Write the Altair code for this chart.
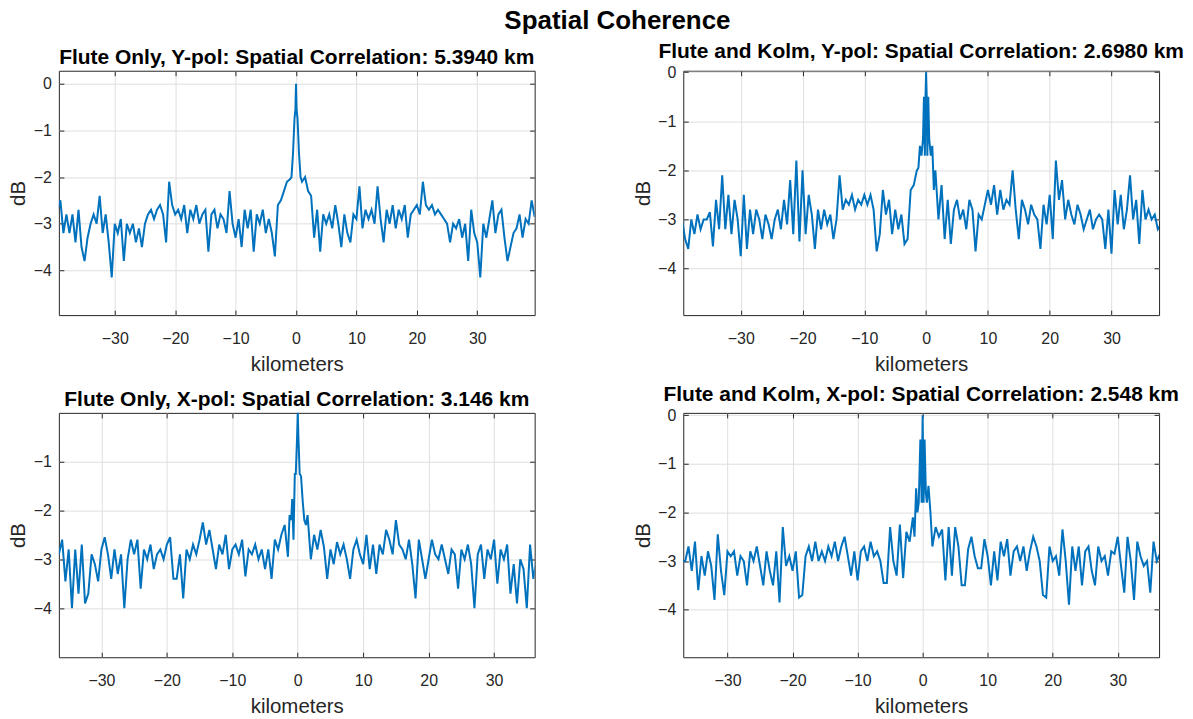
import altair as alt
import pandas as pd

FONT = "Liberation Sans"
BLUE = "#0072BD"
AXC = "#262626"
STEP = 0.5
XTICKS = [-30, -20, -10, 0, 10, 20, 30]

# ---------------- Panel 1: Flute Only, Y-pol ----------------
p1_left_start = -39.5
p1_left = [
    -2.7, -2.5, -3.2, -2.8, -3.2, -2.8, -3.4, -2.7, -3.5, -3.8,
    -3.3, -3.0, -2.8, -3.0, -2.4, -3.2, -2.8, -3.4, -4.15, -3.0,
    -3.2, -2.9, -3.8, -3.0, -3.2, -3.0, -3.4, -3.1, -3.5, -3.0,
    -2.8, -2.7, -2.9, -2.7, -2.6, -2.8, -3.4, -2.1, -2.6, -2.8,
    -2.7, -2.9, -2.6, -3.2, -2.7, -2.9, -2.6, -3.0, -2.8, -2.7,
    -3.6, -2.8, -2.7, -3.1, -2.8, -2.9, -3.2, -2.3, -3.0, -3.3,
    -2.9, -3.5, -2.7, -3.1, -2.7, -3.6, -2.8, -3.0, -2.7, -3.2,
    -2.9, -3.2, -3.7, -2.6, -2.5, -2.3, -2.1, -2.05,
]
p1_mid_x = [-0.75, -0.5, -0.25, -0.1, 0.0, 0.1, 0.25, 0.5, 0.75]
p1_mid_y = [-2.0, -1.5, -0.75, -0.55, 0.0, -0.55, -0.75, -1.5, -2.0]
p1_right_start = 1.0
p1_right = [
    -2.1, -2.0, -2.3, -2.4, -3.3, -2.7, -3.6, -2.8, -3.0, -2.8,
    -3.1, -2.6, -3.0, -3.5, -2.8, -3.2, -3.4, -2.8, -2.9, -2.2,
    -3.1, -2.7, -2.9, -2.7, -3.0, -2.2, -2.9, -3.4, -2.7, -3.0,
    -2.6, -3.1, -2.7, -2.9, -2.6, -3.3, -2.8, -2.7, -2.6, -2.8,
    -2.1, -2.6, -2.7, -2.6, -2.8, -2.7, -2.8, -2.9, -3.0, -3.4,
    -3.0, -3.1, -2.9, -3.3, -3.0, -3.8, -2.7, -3.2, -3.4, -4.15,
    -3.0, -3.3, -2.9, -2.5, -3.2, -2.8, -2.7, -3.3, -3.8, -3.5,
    -3.2, -3.1, -2.8, -3.3, -2.9, -3.0, -2.5, -2.85,
]

# ---------------- Panel 2: Flute and Kolm, Y-pol ----------------
p2_left_start = -39.5
p2_left = [
    -3.0, -3.4, -3.6, -3.0, -3.3, -2.9, -3.2, -3.0, -3.0, -2.85,
    -3.55, -2.6, -3.2, -2.1, -3.2, -2.5, -3.3, -2.6, -3.0, -3.75,
    -2.5, -3.6, -2.8, -3.3, -2.8, -3.0, -3.4, -2.9, -3.1, -3.4,
    -3.0, -2.8, -3.2, -2.6, -3.1, -2.2, -3.3, -1.8, -3.45, -2.0,
    -3.3, -2.5, -2.9, -3.6, -2.8, -3.2, -2.8, -3.1, -2.9, -3.4,
    -3.0, -2.1, -2.8, -2.6, -2.7, -2.5, -2.8, -2.6, -2.7, -2.5,
    -2.7, -2.5, -2.8, -3.65, -3.3, -2.4, -2.9, -2.6, -3.3, -2.8,
    -3.2, -2.9, -3.5, -3.4, -2.4, -2.3, -2.0,
]
p2_mid_x = [-1.25, -1.0, -0.75, -0.5, -0.35, -0.2, -0.1, 0.0, 0.1, 0.2, 0.35, 0.5, 0.75, 1.0, 1.25]
p2_mid_y = [-1.95, -1.5, -1.7, -1.35, -0.5, -1.7, -0.5, 0.0, -0.5, -1.7, -0.5, -1.35, -1.7, -1.5, -2.4]
p2_right_start = 1.5
p2_right = [
    -2.0, -3.0, -2.3, -3.4, -2.6, -3.5, -2.8, -2.6, -3.0, -2.8,
    -3.2, -2.6, -2.8, -3.65, -2.9, -3.0, -2.7, -2.4, -2.7, -2.3,
    -2.9, -2.4, -2.8, -2.6, -2.7, -2.0, -2.8, -3.4, -2.6, -2.8,
    -3.1, -2.7, -2.9, -3.0, -3.6, -2.7, -3.1, -2.5, -3.4, -1.8,
    -2.6, -2.2, -3.0, -2.6, -2.9, -3.1, -2.7, -2.9, -3.2, -3.0,
    -2.8, -3.2, -3.0, -2.9, -3.0, -3.6, -2.8, -3.7, -2.4, -3.1,
    -2.5, -3.2, -2.8, -2.1, -3.0, -2.6, -3.5, -2.4, -3.0, -2.8,
    -3.0, -2.9, -3.2, -3.1,
]

# ---------------- Panel 3: Flute Only, X-pol ----------------
p3_left_start = -36.5
p3_left = [
    -2.9, -2.6, -3.45, -2.8, -4.0, -2.8, -3.7, -2.7, -3.9, -3.7,
    -2.9, -3.1, -3.45, -2.8, -2.55, -2.9, -3.4, -2.8, -3.3, -2.9,
    -4.0, -3.0, -2.6, -2.9, -2.6, -3.6, -2.8, -3.0, -2.7, -3.2,
    -2.9, -2.8, -3.0, -2.7, -2.55, -3.4, -3.4, -2.9, -3.8, -2.8,
    -3.0, -2.7, -2.9, -2.6, -2.25, -2.7, -2.4, -2.8, -3.2, -2.7,
    -2.9, -2.5, -3.2, -2.8, -2.7, -2.9, -2.6, -3.35, -2.8, -2.9,
    -2.7, -3.0, -2.8, -3.2, -2.8, -3.4, -2.6, -2.8, -2.5, -2.3,
    -2.95,
]
p3_mid_x = [-1.25, -1.0, -0.85, -0.65, -0.45, -0.3, -0.1, 0.0, 0.1, 0.3, 0.5, 0.75, 1.0, 1.25]
p3_mid_y = [-2.1, -2.2, -1.77, -2.6, -1.26, -1.26, -0.5, 0.0, -0.5, -1.26, -1.3, -1.8, -2.2, -2.3]
p3_right_start = 1.5
p3_right = [
    -2.1, -3.0, -2.5, -2.8, -2.4, -2.75, -3.4, -2.8, -3.1, -2.65,
    -2.9, -2.7, -3.0, -3.4, -2.8, -2.6, -2.9, -3.1, -2.5, -3.2,
    -2.7, -3.3, -2.7, -2.9, -2.4, -2.6, -2.9, -2.2, -2.7, -2.8,
    -3.0, -2.6, -3.1, -3.8, -2.6, -3.0, -3.4, -3.0, -2.6, -2.9,
    -3.0, -2.7, -3.0, -3.3, -2.8, -2.9, -3.6, -2.8, -3.0, -2.7,
    -3.1, -4.0, -2.9, -2.7, -3.4, -2.8, -3.0, -2.6, -3.5, -2.8,
    -3.0, -2.7, -3.7, -3.1, -3.9, -3.0, -3.2, -4.0, -2.7, -3.4,
    -3.0,
]

# ---------------- Panel 4: Flute and Kolm, X-pol ----------------
p4_left_start = -37.0
p4_left = [
    -3.0, -3.0, -2.7, -3.2, -2.6, -3.6, -2.9, -3.3, -2.8, -3.1,
    -3.8, -2.45, -3.2, -3.7, -2.8, -2.9, -2.8, -3.3, -2.9, -3.0,
    -3.5, -2.8, -3.0, -2.7, -3.1, -3.5, -2.8, -3.2, -3.5, -2.8,
    -3.85, -2.3, -3.1, -2.9, -3.2, -2.8, -3.75, -3.7, -2.9, -2.7,
    -3.0, -2.6, -3.0, -2.8, -3.0, -2.7, -2.9, -2.6, -3.0, -2.7,
    -2.5, -2.9, -3.3, -2.8, -3.4, -2.8, -2.7, -3.0, -2.6, -2.9,
    -2.8, -3.0, -3.45, -3.45, -2.3, -3.0, -3.3, -2.25, -3.35, -2.4,
    -2.6, -2.1,
]
p4_mid_x = [-1.25, -1.0, -0.8, -0.6, -0.35, -0.15, 0.0, 0.15, 0.3, 0.5, 0.65, 0.9, 1.2]
p4_mid_y = [-2.5, -1.5, -2.0, -1.8, -0.5, -1.8, 0.0, -1.8, -0.5, -1.6, -1.8, -1.45, -2.0]
p4_right_start = 1.5
p4_right = [
    -2.7, -2.3, -2.5, -2.35, -3.4, -2.3, -3.3, -2.3, -2.7, -3.5,
    -3.5, -2.75, -2.5, -2.9, -3.15, -3.15, -2.55, -2.9, -3.5, -2.8,
    -3.4, -2.6, -2.9, -2.55, -3.3, -2.8, -2.7, -3.0, -2.7, -3.2,
    -2.8, -2.5, -2.7, -3.0, -3.7, -3.75, -2.7, -3.0, -2.9, -3.3,
    -2.35, -3.0, -3.9, -2.7, -3.2, -2.7, -3.5, -2.8, -2.7, -3.2,
    -3.5, -2.7, -3.0, -2.9, -3.3, -2.8, -2.85, -2.5, -3.1, -3.65,
    -2.5, -3.0, -3.8, -2.6, -2.9, -3.1, -3.0, -3.65, -2.6, -3.0,
    -2.85,
]

titles = [
    "Flute Only, Y-pol: Spatial Correlation: 5.3940 km",
    "Flute and Kolm, Y-pol: Spatial Correlation: 2.6980 km",
    "Flute Only, X-pol: Spatial Correlation: 3.146 km",
    "Flute and Kolm, X-pol: Spatial Correlation: 2.548 km",
]
x_domains = [[-39.25, 39.5], [-39.3, 37.7], [-36.5, 36.2], [-36.8, 36.35]]
y_domains = [[-4.96, 0.28], [-4.95, 0.03], [-5.0, -0.012], [-4.98, 0.05]]
y_ticks = [[-4, -3, -2, -1, 0], [-4, -3, -2, -1, 0], [-4, -3, -2, -1], [-4, -3, -2, -1, 0]]


def series(ls, left, mx, my, rs, right):
    xs = [ls + STEP * i for i in range(len(left))] + list(mx) + [rs + STEP * i for i in range(len(right))]
    ys = list(left) + list(my) + list(right)
    return pd.DataFrame({"km": xs, "dB": ys})


frames = [
    series(p1_left_start, p1_left, p1_mid_x, p1_mid_y, p1_right_start, p1_right),
    series(p2_left_start, p2_left, p2_mid_x, p2_mid_y, p2_right_start, p2_right),
    series(p3_left_start, p3_left, p3_mid_x, p3_mid_y, p3_right_start, p3_right),
    series(p4_left_start, p4_left, p4_mid_x, p4_mid_y, p4_right_start, p4_right),
]


def panel(df, title, xdom, ydom, yt):
    xs = alt.Scale(domain=xdom, nice=False, zero=False)
    ys = alt.Scale(domain=ydom, nice=False, zero=False)
    base = alt.Chart(df)
    line = base.mark_line(color=BLUE, strokeWidth=2, clip=True).encode(
        x=alt.X("km:Q", scale=xs, axis=alt.Axis(
            values=XTICKS, title="kilometers", orient="bottom", offset=-5, tickSize=5,
            domain=False, grid=True, labelPadding=15.5, titlePadding=8, minExtent=0)),
        y=alt.Y("dB:Q", scale=ys, axis=alt.Axis(
            values=yt, title="dB", orient="left", offset=-5, tickSize=5,
            domain=False, grid=True, labelPadding=7.5, titlePadding=4.5, minExtent=0)),
    )
    ghost = base.mark_line(opacity=0, clip=True).encode(
        x=alt.X("km:Q", scale=xs, axis=alt.Axis(
            values=XTICKS, title=None, orient="top", offset=-5, tickSize=5,
            domain=False, grid=False, labels=False, minExtent=0, maxExtent=0)),
        y=alt.Y("dB:Q", scale=ys, axis=alt.Axis(
            values=yt, title=None, orient="right", offset=-5, tickSize=5,
            domain=False, grid=False, labels=False, minExtent=0, maxExtent=0)),
    )
    return alt.layer(line, ghost).resolve_axis(x="independent", y="independent").properties(
        width=477, height=245,
        title=alt.TitleParams(title, anchor="middle", frame="group",
                              offset=2, fontSize=21, font=FONT, fontWeight="bold", color="#000000"),
    )


panels = [panel(frames[i], titles[i], x_domains[i], y_domains[i], y_ticks[i]) for i in range(4)]

chart = alt.concat(
    *panels, columns=2, spacing={"row": 98, "column": 149}, bounds="flush",
    title=alt.TitleParams("Spatial Coherence", anchor="middle",
                          offset=7, dx=21, fontSize=26, font=FONT, fontWeight="bold", color="#000000"),
).properties(
    padding={"left": 0, "top": -2, "right": 0, "bottom": 0},
    background="white",
).configure_view(
    stroke=AXC, strokeWidth=1,
).configure_axis(
    labelFont=FONT, labelFontSize=16, labelColor=AXC,
    titleFont=FONT, titleFontSize=20.5, titleColor=AXC, titleFontWeight="normal",
    gridColor="#dfdfdf", gridWidth=1, tickColor=AXC, tickWidth=1,
)

chart.save("out.html", embed_options={"renderer": "svg", "actions": False})
